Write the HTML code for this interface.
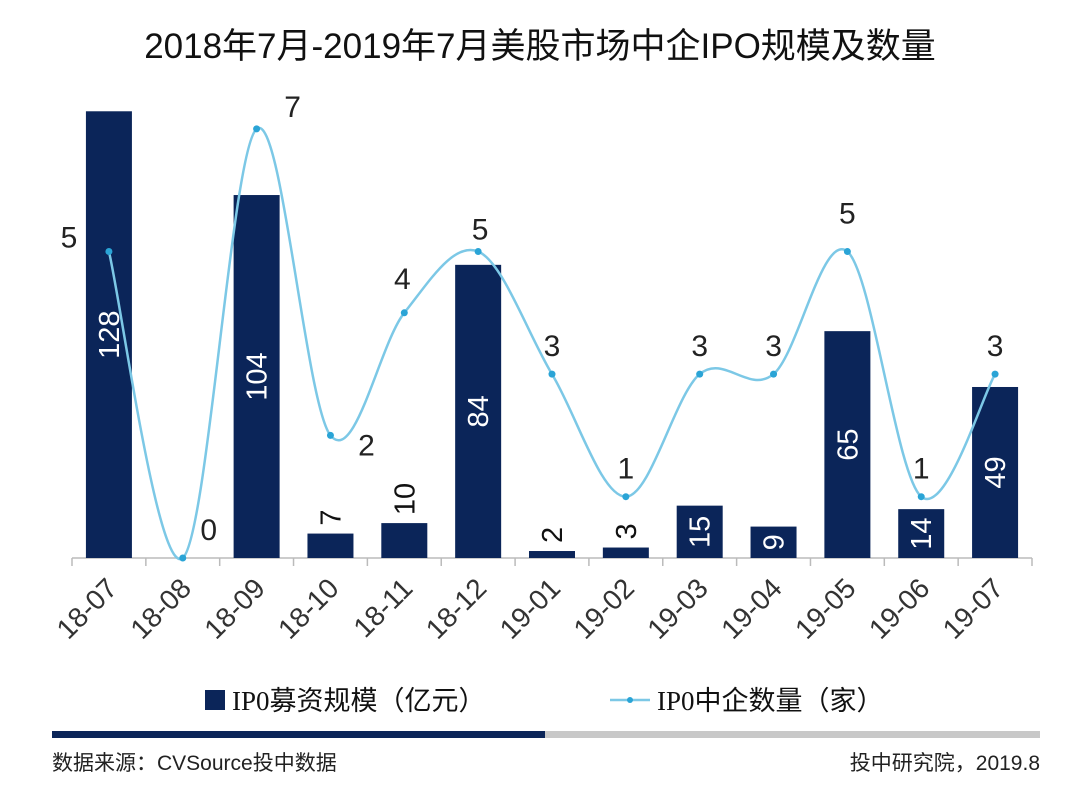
<!DOCTYPE html>
<html><head><meta charset="utf-8">
<style>
body{margin:0;background:#fff;}
svg text{font-family:"Liberation Sans","Noto Sans CJK SC",sans-serif;}
</style></head>
<body>
<svg id="c" width="1080" height="800" xmlns="http://www.w3.org/2000/svg">
<text x="540" y="58" text-anchor="middle" font-size="35" fill="#111">2018年7月-2019年7月美股市场中企IPO规模及数量</text>
<g id="plot"></g>
<g>
<rect x="205" y="690" width="20" height="20" fill="#0b2559"/>
<text x="232" y="710" font-size="27" fill="#111" style="font-family:'Liberation Serif','Noto Sans CJK SC',serif">IP0募资规模（亿元）</text>
<line x1="610" y1="700" x2="650" y2="700" stroke="#7cc8e6" stroke-width="2.5"/>
<circle cx="630" cy="700" r="3" fill="#2aa4d6"/>
<text x="657" y="710" font-size="27" fill="#111" style="font-family:'Liberation Serif','Noto Sans CJK SC',serif">IP0中企数量（家）</text>
</g>
<rect x="52" y="731" width="493" height="7" fill="#0b2559"/>
<rect x="545" y="731" width="495" height="7" fill="#c8c8c8"/>
<text x="52" y="770" font-size="21" fill="#222">数据来源：CVSource投中数据</text>
<text x="1040" y="770" font-size="21" fill="#222" text-anchor="end">投中研究院，2019.8</text>
</svg>
<script>
const categories=["18-07","18-08","18-09","18-10","18-11","18-12","19-01","19-02","19-03","19-04","19-05","19-06","19-07"];
const amounts=[128,0,104,7,10,84,2,3,15,9,65,14,49];
const counts=[5,0,7,2,4,5,3,1,3,3,5,1,3];
const labelInside=[true,false,true,false,false,true,false,false,true,true,true,true,true];
const NS="http://www.w3.org/2000/svg";
const g=document.getElementById('plot');
const x0=72,x1=1032,base=558,bw=(x1-x0)/categories.length;
const xc=i=>x0+bw*(i+0.5);
const yA=v=>base-v*3.49;
const yC=v=>base-v*61.3;
function mk(t,a){const e=document.createElementNS(NS,t);for(const k in a)e.setAttribute(k,a[k]);g.appendChild(e);return e;}
let ax=mk('line',{x1:x0,y1:base,x2:x1,y2:base,stroke:'#bbb','stroke-width':1.5});


for(let i=0;i<=categories.length;i++){let t=mk('line',{x1:x0+bw*i,y1:base,x2:x0+bw*i,y2:base+8,stroke:'#bbb','stroke-width':1.5});

}
categories.forEach((c,i)=>{
 const X=xc(i);
 const r=mk('rect',{x:X-23,y:yA(amounts[i]),width:46,height:base-yA(amounts[i]),fill:'#0b2559'});
 
 
 const tx=X+10,ty=base+32;
 const tl=mk('text',{x:tx,y:ty,'font-size':28,fill:'#333','text-anchor':'end',transform:`rotate(-45 ${tx} ${ty})`});
 tl.textContent=c;
 
 
 if(amounts[i]>0){
  const h=base-yA(amounts[i]);
  const inside=labelInside[i];
  const ly=inside?yA(amounts[i])+h/2:yA(amounts[i])-8;
  const bl=mk('text',{x:X+10,y:ly,'font-size':29,fill:inside?'#fff':'#111','text-anchor':inside?'middle':'start',transform:`rotate(-90 ${X+10} ${ly})`});
  bl.textContent=amounts[i];
  
  
 }
});
const pts=counts.map((v,i)=>[xc(i),yC(v)]);
let d=`M${pts[0][0]},${pts[0][1]}`;
for(let i=0;i<pts.length-1;i++){
 const p0=pts[i-1]||pts[i],p1=pts[i],p2=pts[i+1],p3=pts[i+2]||p2,t=6;
 d+=` C${p1[0]+(p2[0]-p0[0])/t},${p1[1]+(p2[1]-p0[1])/t} ${p2[0]-(p3[0]-p1[0])/t},${p2[1]-(p3[1]-p1[1])/t} ${p2[0]},${p2[1]}`;
}
const ln=mk('path',{d:d,fill:'none',stroke:'#7cc8e6','stroke-width':2.5});


const off=[[-40,-4],[26,-18],[36,-12],[36,20],[-2,-24],[2,-12],[0,-18],[0,-18],[0,-18],[0,-18],[0,-28],[0,-18],[0,-18]];
pts.forEach((p,i)=>{
 const c=mk('circle',{cx:p[0],cy:p[1],r:3.5,fill:'#2aa4d6'});
 
 
 const t=mk('text',{x:p[0]+off[i][0],y:p[1]+off[i][1],'font-size':30,fill:'#222','text-anchor':'middle'});
 t.textContent=counts[i];
 
 
});
</script>
</body></html>
